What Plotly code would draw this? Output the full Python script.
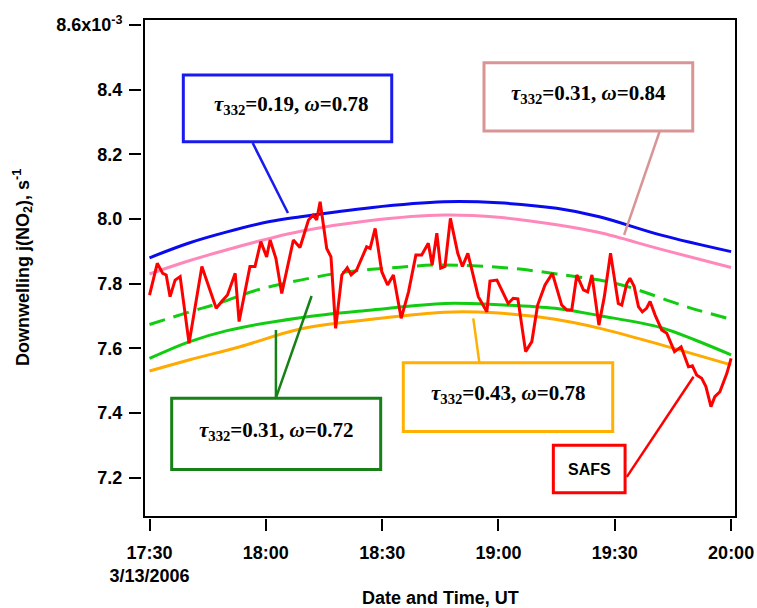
import plotly.graph_objects as go
import pandas as pd

T0 = pd.Timestamp("2006-03-13 17:30:00")


def T(m):
    return (T0 + pd.Timedelta(minutes=m)).strftime("%Y-%m-%d %H:%M:%S")


# ---- data: minutes after 17:30 UT, j(NO2) in units of 1e-3 s^-1 ----
blue_min = [0, 10, 20, 31, 39, 57, 76, 90, 105, 116, 132, 150]
blue_val = [7.880, 7.925, 7.960, 7.992, 8.007, 8.035, 8.053, 8.050, 8.033, 8.007, 7.950, 7.899]

pink_min = [0, 10, 20, 31, 39, 57, 76, 90, 105, 116, 132, 150]
pink_val = [7.830, 7.870, 7.905, 7.940, 7.962, 7.995, 8.012, 8.005, 7.982, 7.958, 7.906, 7.850]

gdash_min = [0, 10.4, 18, 27.6, 38.9, 50, 64.6, 75.8, 93, 105, 120.5, 139, 150]
gdash_val = [7.674, 7.713, 7.740, 7.780, 7.811, 7.835, 7.851, 7.858, 7.848, 7.830, 7.800, 7.727, 7.690]

green_min = [0, 10.4, 20, 38.9, 57.4, 76.2, 90, 104.6, 116.2, 132, 140.7, 150]
green_val = [7.569, 7.621, 7.655, 7.695, 7.719, 7.739, 7.735, 7.724, 7.701, 7.664, 7.626, 7.580]

orange_min = [0, 10.4, 23.3, 38.9, 57.4, 76.2, 89, 104.6, 116.2, 132, 150]
orange_val = [7.530, 7.565, 7.605, 7.660, 7.690, 7.712, 7.710, 7.690, 7.662, 7.611, 7.549]

safs_min = [0.0, 2.0, 3.4, 4.3, 5.3, 6.6, 7.9, 10.2, 13.5, 17.2, 18.6, 20.1, 22.1, 23.1,
            25.9, 27.2, 28.7, 30.2, 31.1, 32.6, 34.1, 37.1, 38.8, 41.0, 42.2, 43.1, 44.0,
            45.7, 46.8, 48.0, 49.6, 51.0, 52.0, 53.4, 56.0, 56.9, 58.2, 59.9, 61.4, 62.9,
            64.9, 66.8, 68.7, 70.2, 71.9, 72.9, 74.1, 75.1, 76.2, 77.6, 79.5, 80.7, 82.1,
            84.8, 87.0, 87.8, 89.6, 92.5, 93.8, 95.0, 97.0, 98.6, 100.1, 102.0, 103.9,
            106.3, 107.6, 108.9, 110.2, 111.9, 113.0, 114.1, 115.9, 117.3, 118.9, 120.1,
            120.9, 121.8, 123.1, 123.9, 125.0, 126.1, 127.1, 128.2, 129.1, 130.4, 132.1,
            133.4, 135.4, 137.1, 138.1, 139.0, 140.0, 141.1, 142.4, 143.5, 144.8, 145.8,
            147.1, 148.9, 150.0]
safs_val = [7.765, 7.863, 7.832, 7.827, 7.760, 7.811, 7.822, 7.616, 7.853, 7.724, 7.745,
            7.765, 7.832, 7.683, 7.853, 7.853, 7.930, 7.883, 7.935, 7.878, 7.770, 7.935,
            7.912, 7.997, 8.012, 7.997, 8.053, 7.909, 7.883, 7.662, 7.827, 7.849, 7.827,
            7.842, 7.914, 7.909, 7.971, 7.837, 7.796, 7.827, 7.693, 7.775, 7.889, 7.889,
            7.925, 7.858, 7.956, 7.848, 7.853, 8.002, 7.894, 7.853, 7.894, 7.760, 7.713,
            7.808, 7.811, 7.739, 7.755, 7.753, 7.590, 7.621, 7.734, 7.796, 7.832, 7.734,
            7.719, 7.719, 7.827, 7.781, 7.775, 7.827, 7.672, 7.760, 7.894, 7.791, 7.739,
            7.734, 7.801, 7.817, 7.791, 7.729, 7.713, 7.724, 7.745, 7.703, 7.657, 7.647,
            7.590, 7.605, 7.574, 7.543, 7.546, 7.518, 7.508, 7.482, 7.420, 7.451, 7.466,
            7.523, 7.569]

x_tick_min = [0, 30, 60, 90, 120, 150]
x_tick_text = ["17:30<br>3/13/2006", "18:00", "18:30", "19:00", "19:30", "20:00"]
y_tick_vals = [7.2, 7.4, 7.6, 7.8, 8.0, 8.2, 8.4, 8.6]
y_tick_text = ["7.2", "7.4", "7.6", "7.8", "8.0", "8.2", "8.4", "8.6x10<sup>-3</sup>"]

# ---- layout helpers (figure pixel -> paper) ----
W, H = 757, 608
L, R, TOP, BOT = 145, 735, 20, 516


def px(x):
    return x / W


def py(y):
    return 1 - y / H


XR = [T(-1.16), T(151.0)]
YR = [7.082, 8.615]

SANS = "Liberation Sans"
SERIF = "Liberation Serif"

fig = go.Figure()


def curve(mins, vals, color, width=3, dash=None):
    fig.add_trace(go.Scatter(
        x=[T(m) for m in mins], y=vals, mode="lines",
        line=dict(color=color, width=width, shape="spline", smoothing=1.0, dash=dash),
        showlegend=False, hoverinfo="skip"))


curve(orange_min, orange_val, "#ffaa00")
curve(green_min, green_val, "#11cc11")
curve(gdash_min, gdash_val, "#11cc11", dash="16px,9px")
curve(pink_min, pink_val, "#ff88bb")
curve(blue_min, blue_val, "#0a0aee")

fig.add_trace(go.Scatter(
    x=[T(m) for m in safs_min], y=safs_val, mode="lines",
    line=dict(color="#ff0000", width=3), showlegend=False, hoverinfo="skip"))

# dummy trace to render the offset axes
fig.add_trace(go.Scatter(x=[T(60)], y=[7.6], xaxis="x2", yaxis="y2", mode="markers",
                         marker=dict(opacity=0), showlegend=False, hoverinfo="skip"))

# ---- callout boxes (data coordinates) ----
boxes = [
    # (t0, t1, v_bottom, v_top, color, text, text_t, text_v)
    (8.72, 62.47, 8.239, 8.445, "#1a1aee", "<i>τ</i><sub>332</sub>=0.19, <i>ω</i>=0.78", 36.5, 8.352),
    (86.28, 140.11, 8.272, 8.483, "#d99595", "<i>τ</i><sub>332</sub>=0.31, <i>ω</i>=0.84", 113.2, 8.385),
    (5.73, 59.63, 7.226, 7.446, "#178017", "<i>τ</i><sub>332</sub>=0.31, <i>ω</i>=0.72", 32.7, 7.345),
    (65.46, 119.47, 7.343, 7.556, "#ffb000", "<i>τ</i><sub>332</sub>=0.43, <i>ω</i>=0.78", 92.5, 7.458),
]
for (a, b, v0, v1, col, txt, tt, tv) in boxes:
    fig.add_shape(type="rect", xref="x", yref="y", x0=T(a), x1=T(b), y0=v0, y1=v1,
                  line=dict(color=col, width=3), fillcolor="white", layer="above")
    fig.add_annotation(xref="x", yref="y", x=T(tt), y=tv, text="<b>" + txt + "</b>",
                       showarrow=False, font=dict(family=SERIF, size=21, color="black"))

fig.add_shape(type="rect", xref="x", yref="y", x0=T(104.15), x1=T(122.65), y0=7.154, y1=7.301,
              line=dict(color="#ff0000", width=3), fillcolor="white", layer="above")
fig.add_annotation(xref="x", yref="y", x=T(113.4), y=7.225, text="<b>SAFS</b>",
                   showarrow=False, font=dict(family=SANS, size=16, color="black"))

# leader lines
leaders = [
    (26.6, 8.235, 35.7, 8.0185, "#1a1aee"),
    (131.6, 8.272, 122.4, 7.951, "#d99595"),
    (32.6, 7.447, 32.6, 7.657, "#178017"),
    (32.6, 7.447, 41.8, 7.762, "#178017"),
    (85.07, 7.556, 83.5, 7.693, "#ffb000"),
    (123.1, 7.203, 140.3, 7.5125, "#ff0000"),
]
for (a, va, b, vb, col) in leaders:
    fig.add_shape(type="line", xref="x", yref="y", x0=T(a), y0=va, x1=T(b), y1=vb,
                  line=dict(color=col, width=2.5), layer="above")

# ---- axes ----
tickfont = dict(family=SANS, size=18, color="black", weight="bold")
fig.update_layout(
    width=W, height=H, margin=dict(l=0, r=0, t=0, b=0),
    paper_bgcolor="white", plot_bgcolor="white",
    xaxis=dict(domain=[px(L), px(R)], type="date", range=XR, showline=True, mirror=True,
               linecolor="black", linewidth=2, ticks="", showticklabels=False,
               showgrid=False, zeroline=False, automargin=False),
    yaxis=dict(domain=[py(BOT), py(TOP)], range=YR, showline=True, mirror=True,
               linecolor="black", linewidth=2, ticks="", showticklabels=False,
               showgrid=False, zeroline=False, automargin=False),
    xaxis2=dict(overlaying="x", anchor="free", position=py(518), side="bottom", type="date",
                range=XR, showline=False, showgrid=False, zeroline=False,
                tickvals=[T(m) for m in x_tick_min], ticktext=x_tick_text,
                ticks="outside", ticklen=12, tickwidth=2, tickcolor="black",
                ticklabelstandoff=6,
                tickfont=tickfont, automargin=False),
    yaxis2=dict(overlaying="y", anchor="free", position=px(141), side="left",
                range=YR, showline=False, showgrid=False, zeroline=False,
                tickvals=y_tick_vals, ticktext=y_tick_text,
                ticks="outside", ticklen=12, tickwidth=2, tickcolor="black",
                ticklabelstandoff=3,
                tickfont=tickfont, automargin=False),
)

fig.add_annotation(xref="paper", yref="paper", x=px(440), y=py(598),
                   xanchor="center", yanchor="middle", text="Date and Time, UT",
                   showarrow=False, font=dict(family=SANS, size=18, color="black", weight="bold"))
fig.add_annotation(xref="paper", yref="paper", x=px(22), y=py(268), textangle=-90,
                   xanchor="center", yanchor="middle",
                   text="Downwelling j(NO<sub>2</sub>), s<sup>-1</sup>",
                   showarrow=False, font=dict(family=SANS, size=18, color="black", weight="bold"))

fig.write_html("out.html")
